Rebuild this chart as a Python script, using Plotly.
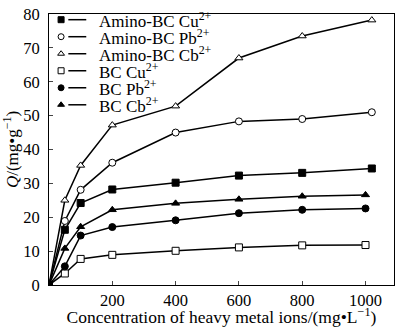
import plotly.graph_objects as go

x_amino = [0, 50, 100, 200, 400, 600, 800, 1020]
x_bc = [0, 50, 100, 200, 400, 600, 800, 1000]

amino_cu = [0, 16.3, 24.2, 28.2, 30.2, 32.3, 33.1, 34.4]
amino_pb = [0, 18.9, 28.1, 36.1, 45.0, 48.3, 49.0, 51.0]
amino_cb = [0, 25.0, 35.3, 47.2, 52.8, 67.0, 73.5, 78.2]
bc_cu = [0, 3.4, 7.7, 8.9, 10.1, 11.1, 11.7, 11.8]
bc_pb = [0, 5.5, 14.6, 17.1, 19.1, 21.2, 22.2, 22.6]
bc_cb = [0, 10.8, 17.2, 22.2, 24.1, 25.3, 26.2, 26.6]

names = ["Amino-BC Cu<sup>2+</sup>", "Amino-BC Pb<sup>2+</sup>", "Amino-BC Cb<sup>2+</sup>",
         "BC Cu<sup>2+</sup>", "BC Pb<sup>2+</sup>", "BC Cb<sup>2+</sup>"]
xs_list = [x_amino, x_amino, x_amino, x_bc, x_bc, x_bc]
ys_list = [amino_cu, amino_pb, amino_cb, bc_cu, bc_pb, bc_cb]
symbols = ["square", "circle", "triangle-up", "square", "circle", "triangle-up"]
fills = ["black", "white", "white", "white", "black", "black"]

x_ticks = [200, 400, 600, 800, 1000]
y_ticks = [0, 10, 20, 30, 40, 50, 60, 70, 80]

font = "Liberation Serif, Times New Roman, serif"
fig = go.Figure()
for name, xs, ys, sym, fc in zip(names, xs_list, ys_list, symbols, fills):
    fig.add_trace(go.Scatter(
        x=xs, y=ys, name=name, mode="lines+markers", showlegend=False,
        line=dict(color="black", width=1.5),
        marker=dict(symbol=sym, size=7, color=fc, line=dict(color="black", width=1)),
    ))

# custom legend (marker, then a short line, then the label) in an overlay frame
row_top, row_step = 0.979, 0.0628
for i, (name, sym, fc) in enumerate(zip(names, symbols, fills)):
    yk = row_top - i * row_step
    fig.add_trace(go.Scatter(
        x=[0.035], y=[yk], mode="markers", showlegend=False, hoverinfo="skip",
        xaxis="x2", yaxis="y2",
        marker=dict(symbol=sym, size=6, color=fc, line=dict(color="black", width=1)),
    ))
    fig.add_trace(go.Scatter(
        x=[0.056, 0.108], y=[yk, yk], mode="lines", showlegend=False, hoverinfo="skip",
        xaxis="x2", yaxis="y2", line=dict(color="black", width=1.5),
    ))
    fig.add_annotation(x=0.14, y=yk, xref="x2", yref="y2", text=name, showarrow=False,
                       xanchor="left", yanchor="middle", font=dict(size=17))

fig.update_layout(
    width=400, height=327,
    margin=dict(l=49, r=5, t=6, b=40),
    paper_bgcolor="white", plot_bgcolor="white",
    font=dict(family=font, size=17, color="black"),
    showlegend=False,
    xaxis=dict(range=[0, 1090], tickvals=x_ticks, ticks="inside", ticklen=4,
               showline=True, linecolor="black", linewidth=1, mirror=True,
               showgrid=False, zeroline=False, tickfont=dict(size=16.5),
               ticklabeloverflow="allow",
               title=dict(text="Concentration of heavy metal ions/(mg•L<sup>−1</sup>)",
                          standoff=0, font=dict(size=17.5))),
    yaxis=dict(range=[0, 80], tickvals=y_ticks, ticks="inside", ticklen=4,
               showline=True, linecolor="black", linewidth=1, mirror=True,
               showgrid=False, zeroline=False, tickfont=dict(size=16.5),
               ticklabelstandoff=5, ticklabeloverflow="allow",
               title=dict(text="<i>Q</i>/(mg•g<sup>−1</sup>)", standoff=0,
                          font=dict(size=17))),
    xaxis2=dict(range=[0, 1], overlaying="x", visible=False, fixedrange=True),
    yaxis2=dict(range=[0, 1], overlaying="y", visible=False, fixedrange=True),
)

fig.write_html("out.html")
